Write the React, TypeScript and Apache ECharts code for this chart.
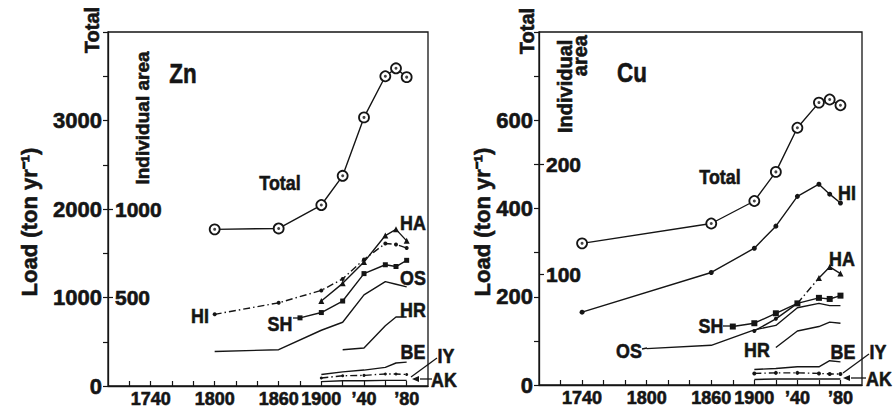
import React, { useEffect, useRef } from "react";
import * as echarts from "echarts";

// ---------- Data (Zn panel) ----------
const znTotalYears = [1800, 1860, 1900, 1920, 1940, 1960, 1970, 1980];
const znTotal = [1770, 1780, 2045, 2375, 3035, 3500, 3590, 3490];
const znHIYears = [1800, 1860, 1900, 1920, 1940, 1960, 1970, 1980];
const znHI = [405, 470, 540, 605, 715, 805, 800, 780];
const znHAYears = [1900, 1920, 1940, 1960, 1970, 1980];
const znHA = [480, 580, 700, 850, 885, 820];
const znSHYears = [1880, 1900, 1920, 1940, 1960, 1970, 1980];
const znSH = [385, 415, 480, 635, 685, 675, 710];
const znOSYears = [1800, 1860, 1900, 1920, 1940, 1960, 1970, 1980];
const znOS = [195, 205, 315, 360, 515, 590, 575, 560];
const znHRYears = [1920, 1940, 1960, 1970, 1980];
const znHR = [205, 215, 340, 390, 390];
const znLowYears = [1900, 1920, 1940, 1960, 1970, 1980];
const znBE = [65, 80, 90, 105, 130, 135];
const znIY = [45, 58, 60, 68, 68, 65];
const znAK = [25, 30, 30, 32, 32, 32];

// ---------- Data (Cu panel) ----------
const cuTotalYears = [1740, 1860, 1900, 1920, 1940, 1960, 1970, 1980];
const cuTotal = [321, 366, 417, 483, 583, 640, 647, 634];
const cuHIYears = [1740, 1860, 1900, 1920, 1940, 1960, 1970, 1980];
const cuHI = [66, 102, 124, 144, 171, 182, 173, 165];
const cuSHYears = [1880, 1900, 1920, 1940, 1960, 1970, 1980];
const cuSH = [53, 56, 65, 74, 79, 78, 81];
const cuHAYears = [1900, 1920, 1940, 1960, 1970, 1980];
const cuHA = [49, 60, 74, 97, 107, 101];
const cuOSYears = [1800, 1860, 1900, 1920, 1940, 1960, 1970, 1980];
const cuOS = [33, 36, 50, 54, 70, 74, 72, 72];
const cuHRYears = [1920, 1940, 1960, 1970, 1980];
const cuHR = [34, 49, 53, 57, 56];
const cuLowYears = [1900, 1920, 1940, 1960, 1970, 1980];
const cuBE = [14, 15, 16.5, 16.5, 22, 21];
const cuIY = [10.5, 11, 11, 10.5, 10, 10];
const cuAK = [5, 5.5, 5.5, 5.5, 5.5, 5.5];

// ---------- Axis ticks / labels ----------
const xTickValues = [1720, 1740, 1760, 1780, 1800, 1820, 1840, 1860, 1880, 1900, 1920, 1940, 1960, 1980];
const xLabelValues = [1740, 1800, 1860, 1900, 1940, 1980];
const znTotalTicks = [0, 500, 1000, 1500, 2000, 2500, 3000, 3500, 4000];
const znTotalLabels = [0, 1000, 2000, 3000];
const znIndLabels = [500, 1000];
const cuTotalTicks = [0, 100, 200, 300, 400, 500, 600, 700, 800];
const cuTotalLabels = [0, 200, 400, 600];
const cuIndLabels = [100, 200];

const INK = "#151515";
const FONT = "'Liberation Sans', Arial, Helvetica, sans-serif";

function pairs(xs: number[], ys: number[]) {
  return xs.map((x, i) => [x, ys[i]]);
}

function xLabelFmt(v: number) {
  if (v === 1940) return "\u201940";
  if (v === 1980) return "\u201980";
  return String(v);
}

function plainFmt(v: number) {
  return String(v);
}

const DASHDOT = [7, 3, 1.5, 3];

function lineSeries(
  xi: number,
  yi: number,
  data: number[][],
  opts: { symbol?: string; size?: number; type?: any; width?: number; empty?: boolean } = {}
) {
  return {
    type: "line",
    xAxisIndex: xi,
    yAxisIndex: yi,
    data,
    silent: true,
    symbol: opts.symbol || "none",
    symbolSize: opts.size || 5,
    showSymbol: !!opts.symbol,
    itemStyle: opts.empty
      ? { color: "#fff", borderColor: INK, borderWidth: 1.8 }
      : { color: INK, borderColor: INK, borderWidth: 0 },
    lineStyle: { color: INK, width: opts.width || 1.4, type: opts.type || "solid" },
    emphasis: { disabled: true },
    z: 3,
  };
}

function dotSeries(xi: number, yi: number, data: number[][], size: number) {
  return {
    type: "scatter",
    xAxisIndex: xi,
    yAxisIndex: yi,
    data,
    silent: true,
    symbol: "circle",
    symbolSize: size,
    itemStyle: { color: INK },
    z: 5,
  };
}

const heavy = { textBorderColor: INK, textBorderWidth: 0.6 };

function xAxis(gi: number) {
  return {
    type: "value",
    gridIndex: gi,
    min: 1700,
    max: 2000,
    interval: 20,
    splitLine: { show: false },
    axisLine: { show: true, lineStyle: { color: INK, width: 1.3 } },
    axisTick: { show: true, inside: true, length: 5, customValues: xTickValues, lineStyle: { color: INK, width: 1.2 } },
    axisLabel: {
      customValues: xLabelValues,
      formatter: xLabelFmt,
      fontSize: 18,
      fontWeight: "bold",
      fontFamily: FONT,
      color: INK,
      margin: 4,
      ...heavy,
    },
  };
}

function totalAxis(gi: number, max: number, ticks: number[], labels: number[]) {
  return {
    type: "value",
    gridIndex: gi,
    position: "left",
    min: 0,
    max,
    splitLine: { show: false },
    axisLine: { show: true, lineStyle: { color: INK, width: 1.3 } },
    axisTick: { show: true, inside: false, length: 5, customValues: ticks, lineStyle: { color: INK, width: 1.2 } },
    axisLabel: {
      customValues: labels,
      formatter: plainFmt,
      fontSize: 22,
      fontWeight: "bold",
      fontFamily: FONT,
      color: INK,
      margin: 6,
      ...heavy,
    },
  };
}

function indAxis(gi: number, max: number, labels: number[]) {
  return {
    type: "value",
    gridIndex: gi,
    position: "left",
    offset: 0,
    min: 0,
    max,
    splitLine: { show: false },
    axisLine: { show: false },
    axisTick: { show: true, inside: true, length: 5, customValues: labels, lineStyle: { color: INK, width: 1.2 } },
    axisLabel: {
      inside: true,
      customValues: labels,
      formatter: plainFmt,
      fontSize: 21,
      fontWeight: "bold",
      fontFamily: FONT,
      color: INK,
      margin: 7,
      ...heavy,
    },
  };
}

function txt(text: string, x: number, y: number, size: number, opts: any = {}) {
  return {
    type: "text",
    x,
    y,
    rotation: opts.rotation || 0,
    scaleX: opts.scaleX || 1,
    scaleY: opts.scaleY || 1,
    silent: true,
    z: 10,
    style: {
      text,
      fill: INK,
      stroke: INK,
      lineWidth: 0.6,
      fontSize: size,
      fontWeight: "bold",
      fontFamily: FONT,
      textAlign: opts.align || "center",
      align: opts.align || "center",
      textVerticalAlign: "middle",
      verticalAlign: "middle",
    },
  };
}

function seg(x1: number, y1: number, x2: number, y2: number) {
  return {
    type: "line",
    silent: true,
    z: 10,
    shape: { x1, y1, x2, y2 },
    style: { stroke: INK, lineWidth: 1.3 },
  };
}

function arrowLeft(x: number, y: number) {
  return {
    type: "polygon",
    silent: true,
    z: 10,
    shape: { points: [[x, y], [x + 7, y - 3], [x + 7, y + 3]] },
    style: { fill: INK },
  };
}

export default function App() {
  const ref = useRef<HTMLDivElement>(null);

  useEffect(() => {
    document.body.style.margin = "0";
    if (!ref.current) return;
    const chart = echarts.init(ref.current, null, { renderer: "svg", width: 894, height: 410 });

    const LBL = 21;
    const SX = 0.85;
    const graphic: any[] = [
      // Zn panel texts
      txt("Zn", 183, 73, 28, { scaleX: 0.8 }),
      txt("Total", 92, 30, 20, { rotation: Math.PI / 2 }),
      txt("Load (ton yr\u207B\u00B9)", 29, 222, 22, { rotation: Math.PI / 2 }),
      txt("Individual area", 142, 118, 19, { rotation: Math.PI / 2 }),
      txt("Total", 280, 182, LBL, { scaleX: SX }),
      txt("HI", 200, 315, LBL, { scaleX: SX }),
      txt("SH", 280, 323, LBL, { scaleX: SX }),
      txt("HA", 413, 222, LBL, { scaleX: SX }),
      txt("OS", 413, 277, LBL, { scaleX: SX }),
      txt("HR", 413, 309, LBL, { scaleX: SX }),
      txt("BE", 413, 351, LBL, { scaleX: SX }),
      txt("IY", 446, 355, LBL, { scaleX: SX }),
      txt("AK", 444, 379, LBL, { scaleX: SX }),
      seg(293, 318, 300, 318),
      seg(411, 377, 437, 358),
      seg(420, 379, 432, 379),
      arrowLeft(412, 379),
      // Cu panel texts
      txt("Cu", 632, 72, 28, { scaleX: 0.8 }),
      txt("Total", 527, 31, 20, { rotation: Math.PI / 2 }),
      txt("Load (ton yr\u207B\u00B9)", 482, 222, 22, { rotation: Math.PI / 2 }),
      txt("Individual", 565, 133, 20, { rotation: Math.PI / 2, align: "left" }),
      txt("area", 580, 35, 20, { rotation: Math.PI / 2, align: "right" }),
      txt("Total", 720, 176, LBL, { scaleX: SX }),
      txt("HI", 847, 192, LBL, { scaleX: SX }),
      txt("HA", 842, 258, LBL, { scaleX: SX }),
      txt("SH", 711, 325, LBL, { scaleX: SX }),
      txt("OS", 629, 350, LBL, { scaleX: SX }),
      txt("HR", 757, 349, LBL, { scaleX: SX }),
      txt("BE", 843, 351, LBL, { scaleX: SX }),
      txt("IY", 878, 351, LBL, { scaleX: SX }),
      txt("AK", 879, 378, LBL, { scaleX: SX }),
      seg(723, 326, 731, 326),
      seg(642, 349, 647, 348),
      seg(843, 373, 869, 354),
      seg(851, 378, 866, 378),
      arrowLeft(843, 378),
    ];

    const znHAp = pairs(znHAYears, znHA);
    const cuHAp = pairs(cuHAYears, cuHA);

    const series: any[] = [
      // Zn
      lineSeries(0, 0, pairs(znTotalYears, znTotal), { symbol: "circle", size: 10, empty: true }),
      dotSeries(0, 0, pairs(znTotalYears, znTotal), 3),
      lineSeries(0, 1, pairs(znHIYears, znHI), { symbol: "circle", size: 4, type: DASHDOT }),
      lineSeries(0, 1, znHAp, { symbol: "triangle", size: 6 }),
      lineSeries(0, 1, pairs(znSHYears, znSH), { symbol: "rect", size: 5 }),
      lineSeries(0, 1, pairs(znOSYears, znOS)),
      lineSeries(0, 1, pairs(znHRYears, znHR)),
      lineSeries(0, 1, pairs(znLowYears, znBE)),
      lineSeries(0, 1, pairs(znLowYears, znIY), { symbol: "circle", size: 3, type: DASHDOT }),
      lineSeries(0, 1, pairs(znLowYears, znAK)),
      // Cu
      lineSeries(1, 2, pairs(cuTotalYears, cuTotal), { symbol: "circle", size: 10, empty: true }),
      dotSeries(1, 2, pairs(cuTotalYears, cuTotal), 3),
      lineSeries(1, 3, pairs(cuHIYears, cuHI), { symbol: "circle", size: 5 }),
      lineSeries(1, 3, cuHAp.slice(0, 3), { symbol: "circle", size: 4 }),
      lineSeries(1, 3, cuHAp.slice(2, 4), { type: DASHDOT }),
      lineSeries(1, 3, cuHAp.slice(3), { symbol: "triangle", size: 6 }),
      lineSeries(1, 3, pairs(cuSHYears, cuSH), { symbol: "rect", size: 6 }),
      lineSeries(1, 3, pairs(cuOSYears, cuOS)),
      lineSeries(1, 3, pairs(cuHRYears, cuHR)),
      lineSeries(1, 3, pairs(cuLowYears, cuBE)),
      lineSeries(1, 3, pairs(cuLowYears, cuIY), { symbol: "circle", size: 4, type: DASHDOT }),
      lineSeries(1, 3, pairs(cuLowYears, cuAK)),
    ];

    chart.setOption({
      animation: false,
      backgroundColor: "#fff",
      grid: [
        { left: 108, top: 32, width: 320, height: 354, show: true, borderColor: INK, borderWidth: 1.3, backgroundColor: "transparent" },
        { left: 539, top: 32, width: 323, height: 353, show: true, borderColor: INK, borderWidth: 1.3, backgroundColor: "transparent" },
      ],
      xAxis: [xAxis(0), xAxis(1)],
      yAxis: [
        totalAxis(0, 4000, znTotalTicks, znTotalLabels),
        indAxis(0, 2000, znIndLabels),
        totalAxis(1, 800, cuTotalTicks, cuTotalLabels),
        indAxis(1, 320, cuIndLabels),
      ],
      series,
      graphic,
    });

    return () => {
      chart.dispose();
    };
  }, []);

  return (
    <div
      ref={ref}
      style={{ position: "absolute", left: 0, top: 0, width: 894, height: 410, background: "#fff" }}
    />
  );
}
